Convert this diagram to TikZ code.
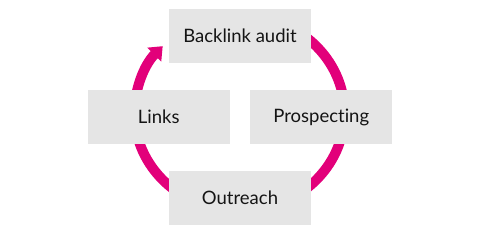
\documentclass[tikz,border=0pt]{standalone}
\usepackage{fontspec}
\setmainfont{Lato}[Ligatures=NoCommon]
\usetikzlibrary{arrows.meta, positioning, calc}
\definecolor{ringpink}{HTML}{E2007A}
\definecolor{boxgrey}{HTML}{E5E5E5}
\definecolor{labeltext}{HTML}{141414}
\tikzset{
    stage/.style={
        rectangle, draw=none, fill=boxgrey,
        minimum width=142pt, minimum height=54pt,
        inner sep=0pt, align=center,
        text=labeltext, font=\fontsize{18.5}{20}\selectfont
    },
    ring/.style={
        draw=ringpink, line width=10pt,
        -{Triangle[width=19pt, length=12pt]}
    }
}
\begin{document}
\begin{tikzpicture}[x=1pt, y=-1pt, node distance=54pt and 10pt]

    \useasboundingbox (0,0) rectangle (480,234);

    % --- Cycle ring (drawn first, boxes sit on top) ---
    \coordinate (ringc) at (239.5,113);
    \draw[ring] ($(ringc)+(0,-98)$) arc[start angle=90, end angle=-223, x radius=105pt, y radius=98pt];

    % --- Stages round the hub ---
    \coordinate (hub) at (240,117);
    \node[stage, above=of hub] (audit) {Backlink audit};
    \node[stage, below=of hub] (outreach) {Outreach};
    \node[stage, left=of hub] (links) {Links};
    \node[stage, right=of hub] (prospect) {Prospecting};

\end{tikzpicture}
\end{document}
